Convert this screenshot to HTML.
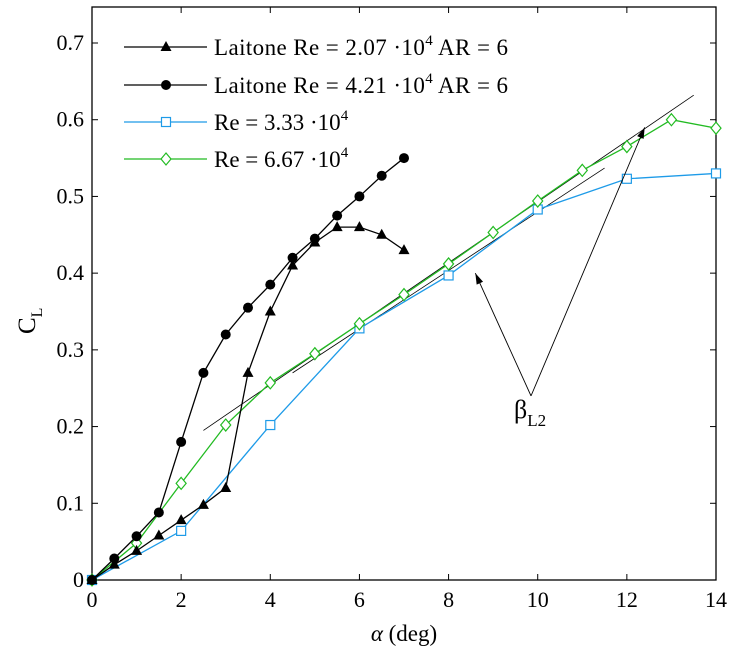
<!DOCTYPE html>
<html><head><meta charset="utf-8"><style>
html,body{margin:0;padding:0;background:#fff;}
svg text{font-family:"Liberation Serif",serif;fill:#000;}
</style></head><body>
<svg id="chart" width="738" height="660" xmlns="http://www.w3.org/2000/svg"></svg>
<script>
const xTicks=[0,2,4,6,8,10,12,14];
const yTicks=[0,0.1,0.2,0.3,0.4,0.5,0.6,0.7];
const triAlpha=[0,0.5,1,1.5,2,2.5,3,3.5,4,4.5,5,5.5,6,6.5,7];
const triCL=[0,0.02,0.038,0.058,0.078,0.098,0.12,0.27,0.35,0.41,0.44,0.46,0.46,0.45,0.43];
const cirAlpha=[0,0.5,1,1.5,2,2.5,3,3.5,4,4.5,5,5.5,6,6.5,7];
const cirCL=[0,0.028,0.057,0.088,0.18,0.27,0.32,0.355,0.385,0.42,0.445,0.475,0.5,0.527,0.55];
const sqAlpha=[0,2,4,6,8,10,12,14];
const sqCL=[0,0.064,0.202,0.328,0.397,0.483,0.523,0.53];
const diaAlpha=[0,1,2,3,4,5,6,7,8,9,10,11,12,13,14];
const diaCL=[0,0.048,0.126,0.202,0.257,0.295,0.334,0.372,0.412,0.453,0.494,0.534,0.565,0.6,0.589];
const tan1=[[2.5,0.195],[13.5,0.632]];
const tan2=[[4.5,0.27],[11.5,0.537]];
const arrowBase=[9.85,0.24];
const arrowTips=[[8.6,0.4],[12.4,0.59]];

const L=92,R=716,T=7,B=580;
const X=v=>L+(v-0)/14*(R-L);
const Y=v=>B-v/0.7*(B-43);
const svg=document.getElementById('chart');
const NS='http://www.w3.org/2000/svg';
function mk(tag,attrs,parent){const e=document.createElementNS(NS,tag);for(const k in attrs)e.setAttribute(k,attrs[k]);(parent||svg).appendChild(e);return e;}

const frame=mk('rect',{x:L,y:T,width:R-L,height:B-T,fill:'none',stroke:'#000','stroke-width':1.3});


xTicks.forEach(t=>{
  mk('line',{x1:X(t),x2:X(t),y1:B,y2:B-6,stroke:'#000'});
  mk('line',{x1:X(t),x2:X(t),y1:T,y2:T+6,stroke:'#000'});
  const tx=mk('text',{x:X(t),y:B+27,'text-anchor':'middle','font-size':22});
  tx.textContent=t;
  
  
});
yTicks.forEach(t=>{
  mk('line',{x1:L,x2:L+6,y1:Y(t),y2:Y(t),stroke:'#000'});
  mk('line',{x1:R,x2:R-6,y1:Y(t),y2:Y(t),stroke:'#000'});
  const tx=mk('text',{x:L-8,y:Y(t)+7,'text-anchor':'end','font-size':22});
  tx.textContent=t===0?'0':t.toFixed(1);
  
  
});
const xt=mk('text',{x:404,y:641,'text-anchor':'middle','font-size':23});
xt.innerHTML='<tspan font-style="italic">α</tspan> (deg)';


const yt=mk('text',{x:0,y:0,'font-size':25,transform:'translate(35,334) rotate(-90)'});
yt.innerHTML='C<tspan font-size="16" dy="7">L</tspan>';



[tan1,tan2].forEach((p,i)=>{
  const l=mk('line',{x1:X(p[0][0]),y1:Y(p[0][1]),x2:X(p[1][0]),y2:Y(p[1][1]),stroke:'#000','stroke-width':0.8});
  
  
});

function marker(type,x,y,color,g){
  if(type==='tri') mk('polygon',{points:`${x},${y-6} ${x-5.5},${y+4} ${x+5.5},${y+4}`,fill:'#000'},g);
  else if(type==='cir') mk('circle',{cx:x,cy:y,r:5,fill:'#000'},g);
  else if(type==='sq') mk('rect',{x:x-4.5,y:y-4.5,width:9,height:9,fill:'#fff',stroke:color,'stroke-width':1.2},g);
  else mk('polygon',{points:`${x},${y-6} ${x+5},${y} ${x},${y+6} ${x-5},${y}`,fill:'#fff',stroke:color,'stroke-width':1.2},g);
}
function series(name,xs,ys,color,type){
  const g=mk('g',{});
  
  
  mk('polyline',{points:xs.map((a,i)=>X(a)+','+Y(ys[i])).join(' '),fill:'none',stroke:color,'stroke-width':1.3},g);
  xs.forEach((a,i)=>marker(type,X(a),Y(ys[i]),color,g));
}
series('series-re-3.33e4',sqAlpha,sqCL,'#1e9be8','sq');
series('series-re-6.67e4',diaAlpha,diaCL,'#22bb22','dia');
series('series-laitone-2.07e4',triAlpha,triCL,'#000','tri');
series('series-laitone-4.21e4',cirAlpha,cirCL,'#000','cir');

arrowTips.forEach((t,i)=>{
  const x1=X(arrowBase[0]),y1=Y(arrowBase[1]),x2=X(t[0]),y2=Y(t[1]);
  const a=mk('line',{x1,y1,x2,y2,stroke:'#000','stroke-width':0.9});
  
  
  const ang=Math.atan2(y2-y1,x2-x1),len=11,w=3.5;
  const bx=x2-len*Math.cos(ang),by=y2-len*Math.sin(ang);
  mk('polygon',{points:`${x2},${y2} ${bx+w*Math.sin(ang)},${by-w*Math.cos(ang)} ${bx-w*Math.sin(ang)},${by+w*Math.cos(ang)}`,fill:'#000'});
});
const bl=mk('text',{x:514,y:418,'font-size':26,'font-family':'Liberation Sans, sans-serif'});
bl.innerHTML='β<tspan font-size="17" dy="8">L2</tspan>';



const leg=[['Laitone Re = 2.07 ·10<tspan font-size="15" dy="-10">4</tspan><tspan dy="10"> AR = 6</tspan>','#000','tri'],
['Laitone Re = 4.21 ·10<tspan font-size="15" dy="-10">4</tspan><tspan dy="10"> AR = 6</tspan>','#000','cir'],
['Re = 3.33 ·10<tspan font-size="15" dy="-10">4</tspan>','#1e9be8','sq'],
['Re = 6.67 ·10<tspan font-size="15" dy="-10">4</tspan>','#22bb22','dia']];
const rows=[47,85,122,159];
leg.forEach((e,i)=>{
  const g=mk('g',{});
  
  
  mk('line',{x1:124,x2:207,y1:rows[i],y2:rows[i],stroke:e[1],'stroke-width':1.3},g);
  marker(e[2],166,rows[i],e[1],g);
  const t=mk('text',{x:214,y:rows[i]+8,'font-size':23,textLength:i<2?294:null},g);
  if(i>=2)t.removeAttribute('textLength');
  t.innerHTML=e[0];
});
</script>
</body></html>
